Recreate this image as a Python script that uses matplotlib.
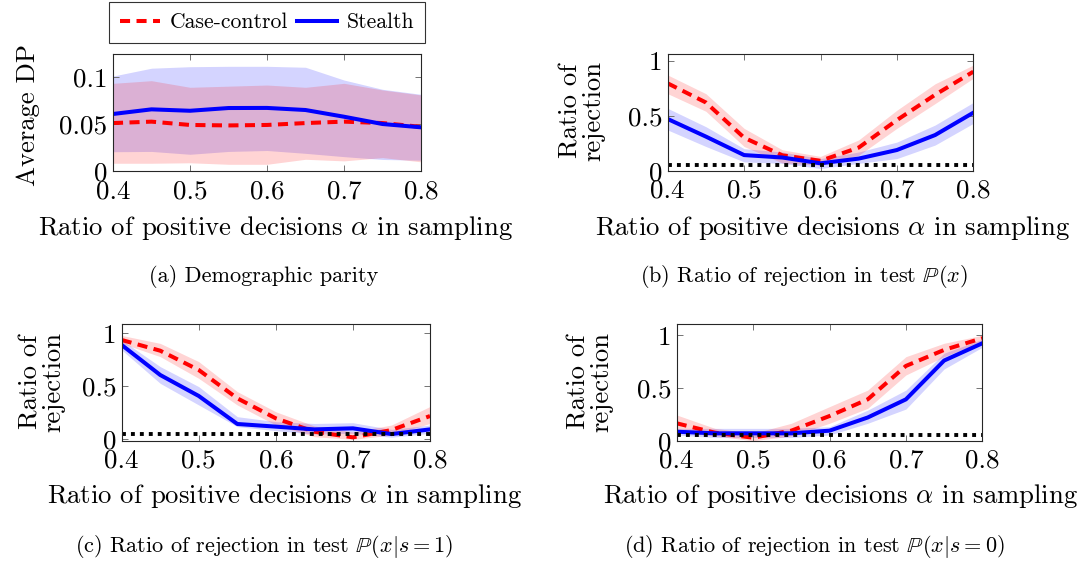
import numpy as np
import matplotlib
matplotlib.use("Agg")
import matplotlib.pyplot as plt
from matplotlib.lines import Line2D

plt.rcParams['font.family'] = ['cmr10', 'DejaVu Serif']
plt.rcParams['mathtext.fontset'] = 'cm'
plt.rcParams['axes.unicode_minus'] = False

# ratio of positive decisions alpha
alpha = [0.4, 0.45, 0.5, 0.55, 0.6, 0.65, 0.7, 0.75, 0.8]

# (a) demographic parity
dp_cc = [0.051, 0.0525, 0.049, 0.0485, 0.049, 0.051, 0.0525, 0.051, 0.047]
dp_cc_lo = [0.0085, 0.0085, 0.009, 0.0074, 0.0074, 0.0127, 0.011, 0.0145, 0.010]
dp_cc_hi = [0.093, 0.0958, 0.0888, 0.090, 0.0912, 0.0888, 0.093, 0.086, 0.0807]
dp_st = [0.0606, 0.0655, 0.064, 0.0669, 0.067, 0.0648, 0.0577, 0.050, 0.0465]
dp_st_lo = [0.0207, 0.021, 0.018, 0.021, 0.022, 0.019, 0.0155, 0.0125, 0.0117]
dp_st_hi = [0.1007, 0.109, 0.1106, 0.111, 0.111, 0.110, 0.0965, 0.0867, 0.0814]

# (b) rejection in P(x)
rx_cc = [0.794, 0.62, 0.30, 0.14, 0.09, 0.21, 0.46, 0.69, 0.90]
rx_cc_lo = [0.70, 0.54, 0.22, 0.07, 0.05, 0.14, 0.385, 0.61, 0.84]
rx_cc_hi = [0.87, 0.70, 0.385, 0.19, 0.13, 0.28, 0.55, 0.79, 0.96]
rx_st = [0.47, 0.31, 0.142, 0.12, 0.067, 0.11, 0.188, 0.324, 0.527]
rx_st_lo = [0.37, 0.22, 0.08, 0.067, 0.02, 0.067, 0.11, 0.233, 0.43]
rx_st_hi = [0.567, 0.40, 0.20, 0.17, 0.11, 0.17, 0.26, 0.415, 0.62]

# (c) rejection in P(x|s=1)
r1_cc = [0.937, 0.836, 0.654, 0.387, 0.198, 0.072, 0.019, 0.088, 0.22]
r1_cc_lo = [0.905, 0.78, 0.575, 0.324, 0.135, 0.025, 0.0, 0.04, 0.15]
r1_cc_hi = [0.98, 0.905, 0.733, 0.45, 0.26, 0.126, 0.07, 0.135, 0.31]
r1_st = [0.89, 0.607, 0.409, 0.145, 0.12, 0.094, 0.104, 0.05, 0.094]
r1_st_lo = [0.843, 0.528, 0.324, 0.12, 0.082, 0.05, 0.057, 0.02, 0.057]
r1_st_hi = [0.937, 0.686, 0.497, 0.214, 0.167, 0.15, 0.157, 0.094, 0.135]

# (d) rejection in P(x|s=0)
r0_cc = [0.165, 0.076, 0.028, 0.095, 0.234, 0.392, 0.709, 0.861, 0.972]
r0_cc_lo = [0.085, 0.044, 0.0, 0.044, 0.165, 0.307, 0.623, 0.797, 0.94]
r0_cc_hi = [0.244, 0.117, 0.07, 0.165, 0.323, 0.48, 0.797, 0.924, 1.0]
r0_st = [0.085, 0.07, 0.07, 0.07, 0.095, 0.22, 0.392, 0.76, 0.924]
r0_st_lo = [0.054, 0.03, 0.03, 0.03, 0.054, 0.165, 0.30, 0.68, 0.886]
r0_st_hi = [0.117, 0.117, 0.117, 0.117, 0.133, 0.29, 0.48, 0.83, 0.962]

threshold = 0.05

W, H = 1086, 561
fig = plt.figure(figsize=(W / 100, H / 100), dpi=100)


def px_axes(left, top, right, bottom):
    return fig.add_axes([left / W, 1 - bottom / H, (right - left) / W, (bottom - top) / H])


FS_TICK = 19.5
FS_LAB = 19.2
FS_LEG = 15.6
CAP = 16
DASH = (0, (2.5, 1.6))


def panel(ax, cc, cc_lo, cc_hi, st, st_lo, st_hi, ylim, yticks, yticklabels, dotted=True):
    ax.fill_between(alpha, st_lo, st_hi, color='blue', alpha=0.17, lw=0)
    ax.fill_between(alpha, cc_lo, cc_hi, color='red', alpha=0.17, lw=0)
    ax.plot(alpha, cc, color='red', lw=2.9, linestyle=DASH, dash_capstyle='butt')
    ax.plot(alpha, st, color='blue', lw=2.9)
    if dotted:
        ax.axhline(threshold, color='black', lw=2.8, linestyle=(0, (1, 1.3)),
                   dash_capstyle='butt')
    ax.set_xlim(0.4, 0.8)
    ax.set_ylim(*ylim)
    ax.set_xticks([0.4, 0.5, 0.6, 0.7, 0.8])
    ax.set_xticklabels(['0.4', '0.5', '0.6', '0.7', '0.8'])
    ax.set_yticks(yticks)
    ax.set_yticklabels(yticklabels)
    ax.tick_params(direction='in', top=True, right=True, length=4.5, width=0.7,
                   color='0.45', labelsize=FS_TICK, labelcolor='black')
    ax.tick_params(axis='x', pad=6)
    ax.tick_params(axis='y', pad=4)
    for s in ax.spines.values():
        s.set_linewidth(0.8)
        s.set_color('0.15')


ax_a = px_axes(113, 54.3, 421, 171.3)
panel(ax_a, dp_cc, dp_cc_lo, dp_cc_hi, dp_st, dp_st_lo, dp_st_hi,
      (0, 0.1237), [0, 0.05, 0.1], ['0', '0.05', '0.1'], dotted=False)

ax_b = px_axes(667.7, 54.3, 973.3, 170.7)
panel(ax_b, rx_cc, rx_cc_lo, rx_cc_hi, rx_st, rx_st_lo, rx_st_hi,
      (0, 1.058), [0, 0.5, 1], ['0', '0.5', '1'])

ax_c = px_axes(121.7, 324.3, 430, 440.7)
panel(ax_c, r1_cc, r1_cc_lo, r1_cc_hi, r1_st, r1_st_lo, r1_st_hi,
      (-0.0126, 1.085), [0, 0.5, 1], ['0', '0.5', '1'])

ax_d = px_axes(676.7, 324.3, 982.3, 440.7)
panel(ax_d, r0_cc, r0_cc_lo, r0_cc_hi, r0_st, r0_st_lo, r0_st_hi,
      (0, 1.104), [0, 0.5, 1], ['0', '0.5', '1'])

xlab = r'Ratio of positive decisions $\alpha$ in sampling'
for x, y in [(276, 235), (833, 235), (285, 503), (841, 503)]:
    fig.text(x / W, 1 - y / H, xlab, fontsize=FS_LAB, ha='center', va='baseline')

fig.text(28 / W, 1 - 115 / H, 'Average DP', fontsize=FS_LAB, rotation=90,
         ha='center', va='center')
for x, y in [(582, 111), (42, 382), (590, 382)]:
    fig.text(x / W, 1 - y / H, 'Ratio of\nrejection', fontsize=FS_LAB, rotation=90,
             ha='center', va='center', multialignment='center', linespacing=0.95)

captions = [
    ('(a) Demographic parity', 264, 282),
    (r'(b) Ratio of rejection in test $\mathbb{P}(x)$', 803.5, 282),
    (r'(c) Ratio of rejection in test $\mathbb{P}(x|s=1)$', 264.5, 552),
    (r'(d) Ratio of rejection in test $\mathbb{P}(x|s=0)$', 814, 552),
]
for txt, x, y in captions:
    fig.text(x / W, 1 - y / H, txt, fontsize=CAP, ha='center', va='baseline')

handles = [
    Line2D([], [], color='red', lw=2.9, linestyle=DASH, dash_capstyle='butt'),
    Line2D([], [], color='blue', lw=2.9),
]
leg = fig.legend(handles, ['Case-control', 'Stealth'], loc='center',
                 bbox_to_anchor=(267 / W, 1 - 22.5 / H), ncol=2, fontsize=FS_LEG,
                 frameon=True, fancybox=False, handlelength=1.85,
                 handletextpad=0.45, columnspacing=0.4, borderpad=0.5,
                 borderaxespad=0)
leg.get_frame().set_edgecolor('black')
leg.get_frame().set_linewidth(0.8)

fig.savefig('out.png', dpi=100)
